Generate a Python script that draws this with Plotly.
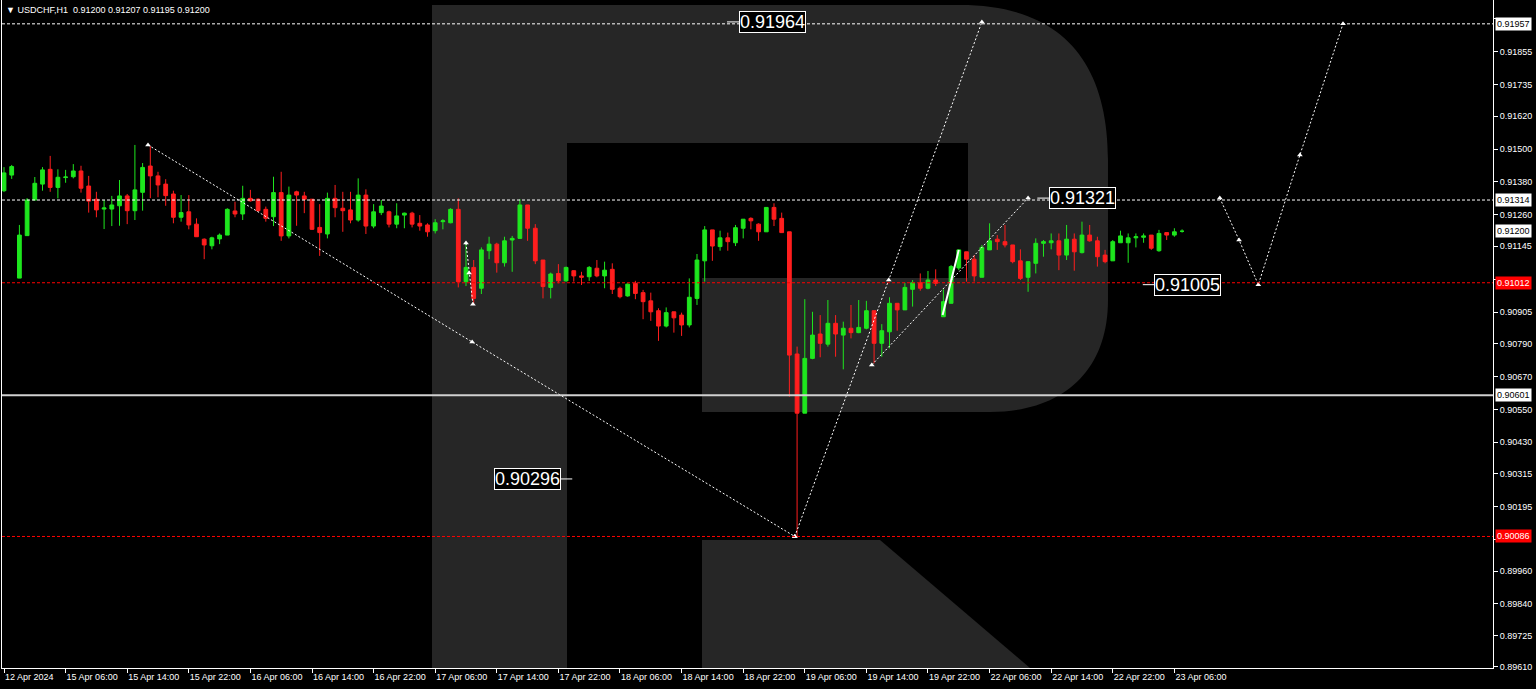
import plotly.graph_objects as go

# ---------------- data ----------------
symbol = "USDCHF,H1"
last_ohlc = [0.91200, 0.91207, 0.91195, 0.91200]

opens = [0.91348, 0.91405, 0.91029, 0.91184, 0.91314, 0.91372, 0.91426, 0.91360, 0.91396, 0.91399,
         0.91420, 0.91365, 0.91317, 0.91281, 0.91281, 0.91293, 0.91329, 0.91275, 0.91342, 0.91438,
         0.91402, 0.91372, 0.91336, 0.91251, 0.91271, 0.91226, 0.91171, 0.91147, 0.91172, 0.91186,
         0.91274, 0.91263, 0.91320, 0.91317, 0.91280, 0.91253, 0.91341, 0.91183, 0.91344, 0.91329,
         0.91317, 0.91214, 0.91190, 0.91320, 0.91284, 0.91278, 0.91241, 0.91332, 0.91219, 0.91268,
         0.91271, 0.91226, 0.91259, 0.91266, 0.91229, 0.91223, 0.91202, 0.91235, 0.91231, 0.91280,
         0.91016, 0.91068, 0.90992, 0.91129, 0.91153, 0.91085, 0.91168, 0.91174, 0.91296, 0.91211,
         0.91095, 0.90995, 0.91046, 0.91019, 0.91056, 0.91037, 0.91034, 0.91065, 0.91037, 0.91061,
         0.90992, 0.90964, 0.91010, 0.90976, 0.90946, 0.90910, 0.90854, 0.90906, 0.90894, 0.90858,
         0.90955, 0.91092, 0.91205, 0.91144, 0.91176, 0.91158, 0.91211, 0.91247, 0.91226, 0.91198,
         0.91287, 0.91247, 0.91198, 0.90752, 0.90536, 0.90736, 0.90825, 0.90788, 0.90864, 0.90821,
         0.90846, 0.90830, 0.90846, 0.90910, 0.90791, 0.90833, 0.90937, 0.90913, 0.90988, 0.91012,
         0.90992, 0.91022, 0.90888, 0.90937, 0.91066, 0.91125, 0.91098, 0.91032, 0.91132, 0.91171,
         0.91162, 0.91150, 0.91092, 0.91032, 0.91083, 0.91156, 0.91158, 0.91165, 0.91113, 0.91171,
         0.91122, 0.91186, 0.91165, 0.91113, 0.91092, 0.91158, 0.91158, 0.91176, 0.91178, 0.91186,
         0.91129, 0.91195, 0.91186, 0.91200]
highs = [0.91434, 0.91442, 0.91223, 0.91321, 0.91398, 0.91434, 0.91475, 0.91426, 0.91424, 0.91445,
         0.91439, 0.91402, 0.91344, 0.91314, 0.91329, 0.91387, 0.91336, 0.91515, 0.91449, 0.91511,
         0.91417, 0.91390, 0.91348, 0.91332, 0.91332, 0.91247, 0.91174, 0.91180, 0.91192, 0.91284,
         0.91308, 0.91366, 0.91351, 0.91320, 0.91290, 0.91399, 0.91417, 0.91363, 0.91348, 0.91344,
         0.91317, 0.91299, 0.91341, 0.91369, 0.91344, 0.91344, 0.91393, 0.91353, 0.91299, 0.91314,
         0.91275, 0.91302, 0.91268, 0.91271, 0.91259, 0.91229, 0.91244, 0.91244, 0.91284, 0.91320,
         0.91162, 0.91095, 0.91141, 0.91180, 0.91158, 0.91180, 0.91183, 0.91317, 0.91296, 0.91226,
         0.91095, 0.91049, 0.91080, 0.91071, 0.91058, 0.91052, 0.91073, 0.91095, 0.91089, 0.91083,
         0.90998, 0.91010, 0.91019, 0.90986, 0.90976, 0.90919, 0.90922, 0.90906, 0.90903, 0.91028,
         0.91117, 0.91219, 0.91205, 0.91202, 0.91195, 0.91223, 0.91244, 0.91251, 0.91229, 0.91287,
         0.91302, 0.91268, 0.91198, 0.90779, 0.90952, 0.90906, 0.90894, 0.90949, 0.90894, 0.90870,
         0.90931, 0.90949, 0.90946, 0.90910, 0.90861, 0.90959, 0.90937, 0.91012, 0.91022, 0.91046,
         0.91055, 0.91061, 0.90988, 0.91077, 0.91132, 0.91125, 0.91113, 0.91150, 0.91229, 0.91186,
         0.91223, 0.91150, 0.91134, 0.91089, 0.91174, 0.91168, 0.91192, 0.91192, 0.91223, 0.91192,
         0.91235, 0.91223, 0.91180, 0.91132, 0.91168, 0.91202, 0.91192, 0.91192, 0.91192, 0.91186,
         0.91205, 0.91195, 0.91211, 0.91207]
lows = [0.91343, 0.91391, 0.91029, 0.91183, 0.91314, 0.91348, 0.91344, 0.91320, 0.91377, 0.91393,
        0.91341, 0.91268, 0.91251, 0.91208, 0.91219, 0.91220, 0.91226, 0.91241, 0.91275, 0.91321,
        0.91324, 0.91293, 0.91229, 0.91235, 0.91207, 0.91180, 0.91098, 0.91134, 0.91153, 0.91186,
        0.91251, 0.91241, 0.91308, 0.91271, 0.91235, 0.91219, 0.91165, 0.91174, 0.91220, 0.91266,
        0.91205, 0.91110, 0.91174, 0.91251, 0.91198, 0.91229, 0.91235, 0.91190, 0.91211, 0.91259,
        0.91214, 0.91211, 0.91211, 0.91214, 0.91202, 0.91180, 0.91192, 0.91207, 0.91229, 0.90995,
        0.91000, 0.90934, 0.90971, 0.91098, 0.91049, 0.91071, 0.91052, 0.91174, 0.91165, 0.91080,
        0.90955, 0.90955, 0.91010, 0.91016, 0.91016, 0.91004, 0.91019, 0.91032, 0.90992, 0.90971,
        0.90955, 0.90961, 0.90952, 0.90879, 0.90873, 0.90800, 0.90849, 0.90830, 0.90818, 0.90849,
        0.90931, 0.91016, 0.91092, 0.91129, 0.91129, 0.91146, 0.91174, 0.91207, 0.91165, 0.91198,
        0.91219, 0.91195, 0.90596, 0.90086, 0.90536, 0.90733, 0.90740, 0.90779, 0.90742, 0.90696,
        0.90809, 0.90828, 0.90842, 0.90718, 0.90742, 0.90773, 0.90837, 0.90913, 0.90925, 0.90983,
        0.90988, 0.91000, 0.90888, 0.90937, 0.91058, 0.91016, 0.91016, 0.91032, 0.91132, 0.91132,
        0.91141, 0.91083, 0.91022, 0.90979, 0.91046, 0.91107, 0.91134, 0.91058, 0.91095, 0.91056,
        0.91119, 0.91162, 0.91071, 0.91083, 0.91092, 0.91158, 0.91085, 0.91141, 0.91158, 0.91132,
        0.91125, 0.91168, 0.91180, 0.91195]
closes = [0.91413, 0.91436, 0.91186, 0.91314, 0.91375, 0.91424, 0.91360, 0.91397, 0.91398, 0.91420,
          0.91357, 0.91310, 0.91278, 0.91285, 0.91296, 0.91329, 0.91275, 0.91351, 0.91433, 0.91402,
          0.91369, 0.91330, 0.91251, 0.91268, 0.91223, 0.91180, 0.91150, 0.91176, 0.91186, 0.91280,
          0.91263, 0.91320, 0.91311, 0.91275, 0.91247, 0.91341, 0.91183, 0.91332, 0.91332, 0.91317,
          0.91207, 0.91195, 0.91320, 0.91286, 0.91275, 0.91241, 0.91332, 0.91219, 0.91271, 0.91292,
          0.91226, 0.91256, 0.91266, 0.91226, 0.91219, 0.91198, 0.91231, 0.91238, 0.91280, 0.91016,
          0.91068, 0.90955, 0.91132, 0.91153, 0.91085, 0.91165, 0.91174, 0.91296, 0.91211, 0.91092,
          0.90998, 0.91044, 0.91019, 0.91068, 0.91037, 0.91032, 0.91068, 0.91037, 0.91058, 0.90988,
          0.90961, 0.91007, 0.90973, 0.90943, 0.90906, 0.90854, 0.90903, 0.90884, 0.90858, 0.90959,
          0.91095, 0.91205, 0.91146, 0.91176, 0.91162, 0.91213, 0.91244, 0.91238, 0.91198, 0.91287,
          0.91244, 0.91195, 0.90748, 0.90536, 0.90736, 0.90821, 0.90791, 0.90864, 0.90825, 0.90846,
          0.90830, 0.90849, 0.90910, 0.90791, 0.90837, 0.90937, 0.90913, 0.90995, 0.91012, 0.90992,
          0.91022, 0.91010, 0.90943, 0.91071, 0.91132, 0.91098, 0.91037, 0.91141, 0.91165, 0.91162,
          0.91150, 0.91089, 0.91028, 0.91089, 0.91156, 0.91162, 0.91165, 0.91113, 0.91171, 0.91125,
          0.91186, 0.91165, 0.91107, 0.91089, 0.91162, 0.91183, 0.91176, 0.91180, 0.91183, 0.91138,
          0.91192, 0.91186, 0.91198, 0.91200]

time_labels = ["12 Apr 2024", "15 Apr 06:00", "15 Apr 14:00", "15 Apr 22:00", "16 Apr 06:00",
               "16 Apr 14:00", "16 Apr 22:00", "17 Apr 06:00", "17 Apr 14:00", "17 Apr 22:00",
               "18 Apr 06:00", "18 Apr 14:00", "18 Apr 22:00", "19 Apr 06:00", "19 Apr 14:00",
               "19 Apr 22:00", "22 Apr 06:00", "22 Apr 14:00", "22 Apr 22:00", "23 Apr 06:00"]
bars_per_label = 8

price_ticks = [0.91975, 0.91855, 0.91735, 0.91620, 0.91500, 0.91380, 0.91260, 0.91145, 0.91025,
               0.90905, 0.90790, 0.90670, 0.90550, 0.90430, 0.90315, 0.90195, 0.90075, 0.89960,
               0.89840, 0.89725, 0.89610]
# tick labels covered by the price tags in the reference
covered_ticks = [0.91975, 0.91025, 0.90075]

# horizontal levels
level_prices = [0.91957, 0.91314, 0.91012, 0.90601, 0.90086]
level_kinds = ["white_dash", "white_dash", "red_dash", "solid", "red_dash"]

# price tags on the axis
tag_prices = [0.91957, 0.91314, 0.91200, 0.91012, 0.90601, 0.90086]
tag_kinds = ["white", "white", "white", "red", "white", "red"]

# wave lines (bar position, price)
wave_a_bars = [18.7, 60.8, 102.7]
wave_a_prices = [0.91515, 0.90796, 0.90086]
wave_b_bars = [60.0, 60.4, 60.9]
wave_b_prices = [0.91157, 0.91048, 0.90934]
wave_c_bars = [102.7, 114.9, 127.0]
wave_c_prices = [0.90086, 0.91022, 0.91964]
wave_d_bars = [112.7, 133.0]
wave_d_prices = [0.90712, 0.91321]
wave_e_bars = [121.9, 124.0]
wave_e_prices = [0.90894, 0.91132]
forecast_bars = [157.9, 160.4, 162.9, 168.3, 173.9]
forecast_prices = [0.91321, 0.91168, 0.91005, 0.91478, 0.91957]

# boxed callouts
callout_prices = [0.91964, 0.91321, 0.91005, 0.90296]
callout_bars = [93.9, 134.2, 147.9, 73.8]
callout_side = [1, 1, 1, -1]

# ---------------- figure ----------------
bar_ids = list(range(len(opens)))
GREEN = "#1ee61e"
RED = "#ff1e1e"
BG = "#000000"
LOGO = "#262626"

fig = go.Figure()

fig.add_trace(go.Candlestick(
    x=bar_ids, open=opens, high=highs, low=lows, close=closes,
    increasing=dict(line=dict(color=GREEN, width=1), fillcolor=GREEN),
    decreasing=dict(line=dict(color=RED, width=1), fillcolor=RED),
    whiskerwidth=0, showlegend=False, hoverinfo="skip",
))


def add_wave(bx, py, dash="2px,2px", width=1, markers=True):
    fig.add_trace(go.Scatter(
        x=bx, y=py, mode="lines+markers" if markers else "lines",
        line=dict(color="white", width=width, dash=dash),
        marker=dict(symbol="triangle-up", size=5, color="white"),
        showlegend=False, hoverinfo="skip",
    ))


add_wave(wave_a_bars, wave_a_prices)
add_wave(wave_b_bars, wave_b_prices)
add_wave(wave_c_bars, wave_c_prices)
add_wave(wave_d_bars, wave_d_prices)
add_wave(wave_e_bars, wave_e_prices, dash="solid", width=2, markers=False)
add_wave(forecast_bars, forecast_prices)

# ---- plot-area geometry in pixels (for the background logo) ----
PL, PR, PT, PB = 2, 1493, 0, 668


def X(px):
    return (px - PL) / (PR - PL)


def Y(py):
    return (PB - py) / (PB - PT)


def path(cmds):
    out = []
    for c in cmds:
        op, pts = c[0], c[1:]
        out.append(op + " " + " ".join(f"{X(a):.5f},{Y(b):.5f}" for a, b in pts))
    return " ".join(out) + " Z"


logo_body = path([
    ("M", (432, 5)), ("L", (960, 5)),
    ("C", (1060, 5), (1108, 60), (1108, 160)),
    ("L", (1108, 300)),
    ("C", (1108, 372), (1062, 412), (990, 412)),
    ("L", (702, 412)), ("L", (702, 278)), ("L", (968, 278)), ("L", (968, 143)),
    ("L", (567, 143)), ("L", (567, 668)), ("L", (432, 668)),
])
logo_leg = path([("M", (702, 540)), ("L", (880, 540)), ("L", (1030, 668)), ("L", (702, 668))])

shapes = []
for p in (logo_body, logo_leg):
    shapes.append(dict(type="path", path=p, xref="paper", yref="paper",
                       fillcolor=LOGO, line=dict(width=0), layer="below"))

for price, kind in zip(level_prices, level_kinds):
    if kind == "white_dash":
        ln = dict(color="white", width=1, dash="3px,2px")
    elif kind == "red_dash":
        ln = dict(color="#ff0000", width=1, dash="3px,2px")
    else:
        ln = dict(color="#d0d0d0", width=2)
    shapes.append(dict(type="line", xref="paper", yref="y", x0=0, x1=1, y0=price, y1=price,
                       line=ln, layer="above"))

annotations = []
# title
annotations.append(dict(
    xref="paper", yref="paper", x=0, y=1, xanchor="left", yanchor="top", xshift=2, yshift=-3,
    text="▼ " + symbol + "  " + " ".join(f"{v:.5f}" for v in last_ohlc),
    showarrow=False, font=dict(family="Liberation Sans", size=9, color="white"),
))
# axis price tags
for price, kind in zip(tag_prices, tag_kinds):
    annotations.append(dict(
        xref="paper", yref="y", x=1, y=price, xanchor="left", yanchor="middle", xshift=2,
        text=f"{price:.5f}", showarrow=False,
        font=dict(family="Liberation Sans", size=9, color="black" if kind == "white" else "white"),
        bgcolor="white" if kind == "white" else "#ff0000", borderpad=1,
    ))
# boxed callouts
for price, bx, side in zip(callout_prices, callout_bars, callout_side):
    annotations.append(dict(
        xref="x", yref="y", x=bx, y=price, ax=45 * side, ay=0,
        text=f"{price:.5f}", showarrow=True, arrowhead=0, arrowwidth=1, arrowcolor="white",
        font=dict(family="Liberation Sans", size=18, color="white"),
        bgcolor="black", bordercolor="white", borderwidth=1, borderpad=0,
    ))

fig.update_layout(
    width=1536, height=689, autosize=False,
    margin=dict(l=PL, r=1536 - PR, t=PT, b=689 - PB),
    paper_bgcolor=BG, plot_bgcolor=BG,
    shapes=shapes, annotations=annotations,
    showlegend=False,
    xaxis=dict(
        range=[-0.26, 193.38], rangeslider=dict(visible=False),
        tickvals=[i * bars_per_label for i in range(len(time_labels))], ticktext=time_labels,
        ticks="outside", ticklen=4, tickcolor="white", ticklabelposition="outside right",
        tickfont=dict(family="Liberation Sans", size=9, color="white"),
        showgrid=False, zeroline=False, showline=True, linecolor="white", linewidth=1,
        fixedrange=True,
    ),
    yaxis=dict(
        side="right", range=[0.89606, 0.92044],
        tickvals=price_ticks,
        ticktext=["" if v in covered_ticks else f"{v:.5f}" for v in price_ticks],
        ticks="outside", ticklen=4, tickcolor="white",
        tickfont=dict(family="Liberation Sans", size=9, color="white"),
        showgrid=False, zeroline=False, showline=True, mirror=True,
        linecolor="white", linewidth=1, fixedrange=True,
    ),
)

fig.write_html("out.html", config={"displayModeBar": False},
               post_script="document.body.style.margin='0';document.body.style.overflow='hidden';")
